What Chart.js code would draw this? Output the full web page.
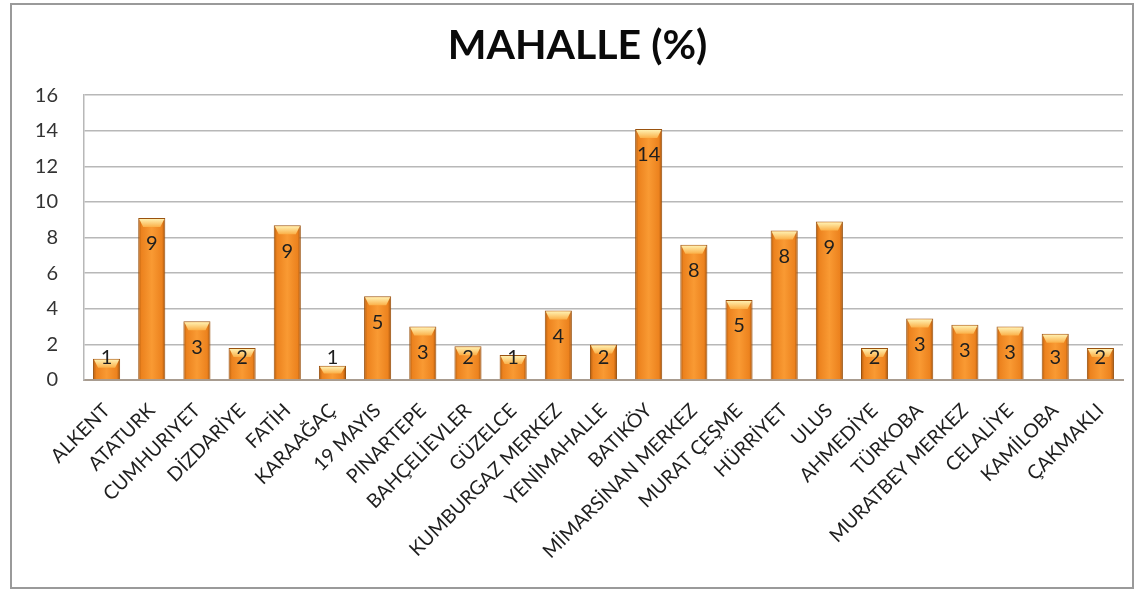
<!DOCTYPE html>
<html lang="tr">
<head>
    <meta charset="UTF-8">
    <title>MAHALLE (%)</title>
    <script src="https://cdn.jsdelivr.net/npm/chart.js@4.4.0/dist/chart.umd.min.js"></script>
    <style>
        body { margin: 0; background: #ffffff; }
        #wrap { position: absolute; left: 0; top: 0; width: 1143px; height: 590px; }
    </style>
</head>
<body>
    <div id="wrap"><canvas id="mahalleChart" width="1143" height="590"></canvas></div>
    <script>
        // neighbourhoods and their share (%)
        const mahalleler = ['ALKENT', 'ATATURK', 'CUMHURIYET', 'DİZDARİYE', 'FATİH', 'KARAAĞAÇ', '19 MAYIS',
            'PINARTEPE', 'BAHÇELİEVLER', 'GÜZELCE', 'KUMBURGAZ MERKEZ', 'YENİMAHALLE', 'BATIKÖY',
            'MİMARSİNAN MERKEZ', 'MURAT ÇEŞME', 'HÜRRİYET', 'ULUS', 'AHMEDİYE', 'TÜRKOBA',
            'MURATBEY MERKEZ', 'CELALİYE', 'KAMİLOBA', 'ÇAKMAKLI'];
        const yuzde = [1.2, 9.1, 3.3, 1.8, 8.7, 0.8, 4.7, 3.0, 1.9, 1.4, 3.9, 2.0, 14.1,
            7.6, 4.5, 8.4, 8.9, 1.8, 3.45, 3.1, 3.0, 2.6, 1.8];
        const yTicks = [0, 2, 4, 6, 8, 10, 12, 14, 16];

        const FONT = 'Lato, "Open Sans", sans-serif';
        const BAR_PCT = 0.6;

        // orange bar body, darker at the edges
        function barFill(ctx) {
            const chart = ctx.chart;
            const xs = chart.scales.x;
            if (ctx.type !== 'data' || !xs || !xs.width) return '#F28C28';
            const cx = xs.getPixelForValue(ctx.dataIndex);
            const w = (xs.width / mahalleler.length) * BAR_PCT;
            const g = chart.ctx.createLinearGradient(cx - w / 2, 0, cx + w / 2, 0);
            g.addColorStop(0, '#B05A0C');
            g.addColorStop(0.12, '#EC821E');
            g.addColorStop(0.5, '#F99A33');
            g.addColorStop(0.88, '#EC821E');
            g.addColorStop(1, '#A0500B');
            return g;
        }

        // frame, bevel cap and the value labels
        const decor = {
            id: 'decor',
            afterLayout(chart) {
                // Excel centres the title a little to the right of the canvas middle
                if (chart.titleBlock) chart.titleBlock.left += 20;
            },
            beforeDraw(chart) {
                const c = chart.ctx;
                c.save();
                c.strokeStyle = '#9A9A9A';
                c.lineWidth = 2;
                c.strokeRect(11, 4, 1122, 584);
                c.restore();
            },
            afterDatasetsDraw(chart) {
                const c = chart.ctx;
                const bottom = chart.chartArea.bottom;
                const meta = chart.getDatasetMeta(0);
                c.save();
                meta.data.forEach((bar, i) => {
                    const x0 = bar.x - bar.width / 2 + 1;
                    const x1 = bar.x + bar.width / 2 - 1;
                    const top = bar.y + 1;
                    const capH = Math.min(8, (bottom - top) / 2);
                    const g = c.createLinearGradient(0, top, 0, top + capH);
                    g.addColorStop(0, '#FFF0B0');
                    g.addColorStop(1, '#FBB048');
                    c.fillStyle = g;
                    c.beginPath();
                    c.moveTo(x0, top);
                    c.lineTo(x1, top);
                    c.lineTo(x1 - 4, top + capH);
                    c.lineTo(x0 + 4, top + capH);
                    c.closePath();
                    c.fill();

                    const ly = Math.min(bar.y + 26, bottom - 22);
                    c.fillStyle = '#1E1E1E';
                    c.font = '20px ' + FONT;
                    c.textAlign = 'center';
                    c.textBaseline = 'middle';
                    c.fillText(String(Math.round(yuzde[i])), bar.x, ly);
                });
                c.restore();
            }
        };

        new Chart(document.getElementById('mahalleChart'), {
            type: 'bar',
            data: {
                labels: mahalleler,
                datasets: [{
                    label: 'MAHALLE (%)',
                    data: yuzde,
                    backgroundColor: barFill,
                    borderColor: '#9A520F',
                    borderWidth: 1,
                    barPercentage: BAR_PCT,
                    categoryPercentage: 1
                }]
            },
            options: {
                responsive: false,
                animation: false,
                devicePixelRatio: 1,
                layout: { padding: { left: 12, right: 20, top: 0, bottom: 5 } },
                scales: {
                    x: {
                        afterFit: s => { s.height = 205; },
                        grid: { display: false, drawTicks: false },
                        border: { color: '#A89C90', width: 2 },
                        ticks: {
                            autoSkip: false,
                            maxRotation: 45,
                            minRotation: 45,
                            padding: 19,
                            color: '#1E1E1E',
                            font: { family: FONT, size: 19.5 }
                        }
                    },
                    y: {
                        min: 0,
                        max: 16,
                        afterFit: s => { s.width = 72; },
                        afterBuildTicks: s => { s.ticks = yTicks.map(v => ({ value: v })); },
                        grid: { color: '#B8B8B8', lineWidth: 1.5, drawTicks: false },
                        border: { color: '#B8B8B8', width: 1.5 },
                        ticks: {
                            padding: 26,
                            color: '#333333',
                            font: { family: FONT, size: 20 }
                        }
                    }
                },
                plugins: {
                    legend: { display: false },
                    tooltip: { enabled: false },
                    title: {
                        display: true,
                        text: 'MAHALLE (%)',
                        color: '#0A0A0A',
                        font: { family: FONT, size: 41, weight: 'bold' },
                        padding: { top: 21, bottom: 25 }
                    }
                }
            },
            plugins: [decor]
        });
    </script>
</body>
</html>
